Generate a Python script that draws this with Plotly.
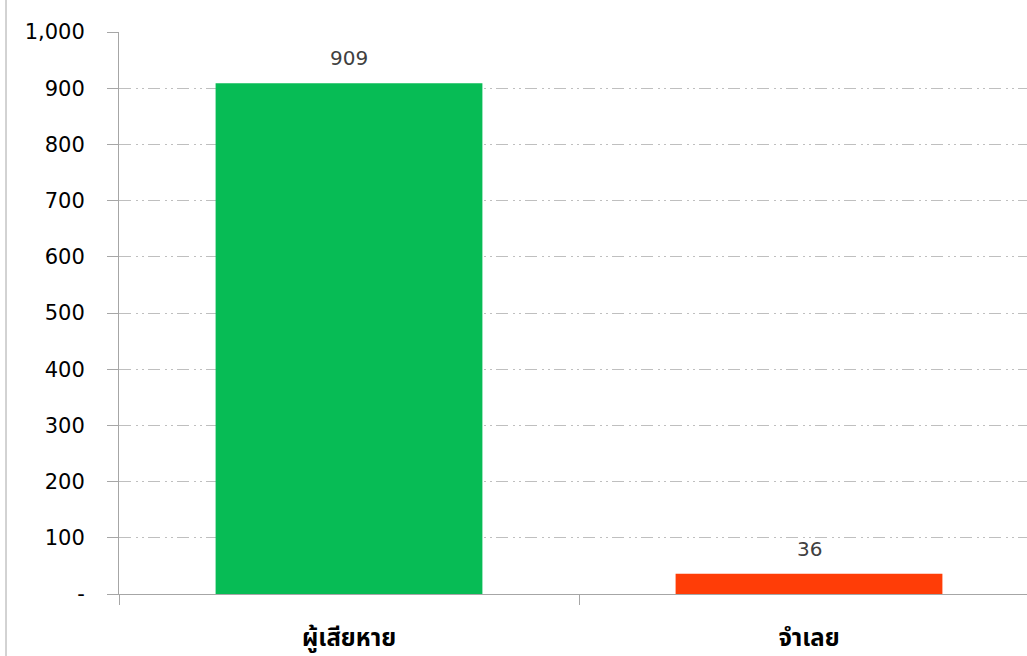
import plotly.graph_objects as go

categories = ["ผู้เสียหาย", "จำเลย"]
values = [909, 36]
bar_colors = ["#07BC55", "#FF3D07"]
ytick_vals = [0, 100, 200, 300, 400, 500, 600, 700, 800, 900, 1000]
ytick_text = ["-", "100", "200", "300", "400", "500", "600", "700", "800", "900", "1,000"]

W, H = 1027, 656
ML, MR, MT, MB = 119, 0, 32, 62
plot_w = W - ML - MR

fig = go.Figure()
fig.add_trace(go.Bar(
    x=categories, y=values,
    marker=dict(color=bar_colors, line=dict(width=0)),
    width=0.58,
    hoverinfo="x+y",
))

for c, v in zip(categories, values):
    fig.add_annotation(
        x=c, y=v, text=f"{v:,}", showarrow=False,
        yanchor="bottom", yshift=11,
        font=dict(family="DejaVu Sans", size=20, color="#404040"),
    )

grid_dash = "12px,5px,2px,4px,2px,4px"

fig.update_layout(
    width=W, height=H,
    margin=dict(l=ML, r=MR, t=MT, b=MB, pad=0),
    paper_bgcolor="white", plot_bgcolor="white",
    showlegend=False,
    bargap=0.42,
    xaxis=dict(
        type="category",
        range=[-0.5, -0.5 + plot_w / 460.0],
        tickson="boundaries",
        ticks="outside", ticklen=10, tickcolor="#A6A6A6", tickwidth=1,
        showline=True, linecolor="#A6A6A6", linewidth=1,
        showgrid=False,
        tickfont=dict(family="Noto Sans Thai, Noto Sans, DejaVu Sans, sans-serif", size=24, color="#000000", weight="bold"),
        ticklabelstandoff=22,
    ),
    yaxis=dict(
        range=[0, 1000],
        tickvals=ytick_vals, ticktext=ytick_text,
        ticks="outside", ticklen=11, tickcolor="#A6A6A6", tickwidth=1,
        showline=True, linecolor="#A6A6A6", linewidth=1,
        showgrid=True, gridcolor="#BFBFBF", gridwidth=1, griddash=grid_dash,
        zeroline=False,
        tickfont=dict(family="DejaVu Sans", size=21, color="#000000"),
        ticklabelstandoff=18,
    ),
)

# left frame border of the original chart
fig.add_shape(type="line", xref="paper", yref="paper",
              x0=(6 - ML) / plot_w, x1=(6 - ML) / plot_w,
              y0=-MB / (H - MT - MB), y1=1 + MT / (H - MT - MB),
              line=dict(color="#A6A6A6", width=1))

fig.write_html("out.html",
               config={"displayModeBar": False},
               post_script="document.body.style.margin='0px';document.body.style.overflow='hidden';")
